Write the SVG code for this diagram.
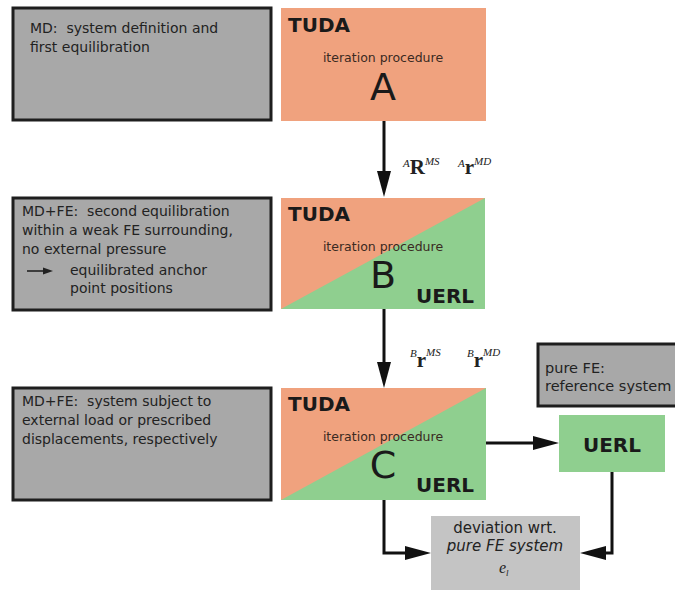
<svg xmlns="http://www.w3.org/2000/svg" width="675" height="590" viewBox="0 0 675 590">
<style>
.note{fill:#a8a8a8;stroke:#1e1e1e;stroke-width:3}
.ntxt{font-family:"DejaVu Sans",Verdana,sans-serif;font-size:14px;fill:#222}
.tuda{font-family:"DejaVu Sans",Verdana,sans-serif;font-size:20px;font-weight:bold;fill:#1a1a1a}
.iter{font-family:"DejaVu Sans",Verdana,sans-serif;font-size:12.5px;fill:#3a2a22;text-anchor:middle}
.big{font-family:"DejaVu Sans",Verdana,sans-serif;font-size:38px;fill:#1a1a1a;text-anchor:middle}
.math{font-family:"Liberation Serif","DejaVu Serif",serif;fill:#222}
.sup{font-size:11px;font-style:italic}
.conn{fill:none;stroke:#111;stroke-width:3}
.or{fill:#f0a27e}
.gr{fill:#8fcf8f}
</style>
<defs>
<marker id="ah" markerUnits="userSpaceOnUse" markerWidth="26" markerHeight="14" refX="18" refY="7" orient="auto">
<path d="M0,0 L26,7 L0,14 Z" fill="#111"/>
</marker>
</defs>

<g id="note1">
<rect class="note" x="13" y="8" width="258" height="112"/>
<text class="ntxt" x="30" y="33" xml:space="preserve">MD:  system definition and</text>
<text class="ntxt" x="30" y="52">first equilibration</text>
</g>

<g id="note2">
<rect class="note" x="13" y="198" width="258" height="112"/>
<text class="ntxt" x="22" y="216" xml:space="preserve">MD+FE:  second equilibration</text>
<text class="ntxt" x="22" y="235">within a weak FE surrounding,</text>
<text class="ntxt" x="22" y="254">no external pressure</text>
<line x1="27" y1="271" x2="44" y2="271" stroke="#222" stroke-width="1.6"/>
<path d="M43,267.5 L53,271 L43,274.5 Z" fill="#222"/>
<text class="ntxt" x="70" y="275">equilibrated anchor</text>
<text class="ntxt" x="70" y="293">point positions</text>
</g>

<g id="note3">
<rect class="note" x="13" y="388" width="258" height="112"/>
<text class="ntxt" x="22" y="406" xml:space="preserve">MD+FE:  system subject to</text>
<text class="ntxt" x="22" y="425">external load or prescribed</text>
<text class="ntxt" x="22" y="444">displacements, respectively</text>
</g>

<g id="boxA">
<rect class="or" x="281" y="8" width="205" height="113"/>
<text class="tuda" x="288" y="32">TUDA</text>
<text class="iter" x="383" y="62">iteration procedure</text>
<text class="big" x="383" y="100">A</text>
</g>

<g id="boxB">
<rect class="gr" x="281" y="198" width="204" height="111"/>
<polygon class="or" points="281,198 485,198 281,309"/>
<text class="tuda" x="288" y="221">TUDA</text>
<text class="iter" x="383" y="251">iteration procedure</text>
<text class="big" x="383" y="288">B</text>
<text class="tuda" x="416" y="303">UERL</text>
</g>

<g id="boxC">
<rect class="gr" x="281" y="388" width="205" height="112"/>
<polygon class="or" points="281,388 486,388 281,500"/>
<text class="tuda" x="288" y="411">TUDA</text>
<text class="iter" x="383" y="441">iteration procedure</text>
<text class="big" x="383" y="478">C</text>
<text class="tuda" x="416" y="492">UERL</text>
</g>

<g id="pureFE">
<rect class="note" x="538" y="344" width="150" height="62"/>
<text class="ntxt" x="545" y="373" style="font-size:14.5px">pure FE:</text>
<text class="ntxt" x="545" y="391" style="font-size:14.5px">reference system</text>
</g>

<g id="uerl">
<rect class="gr" x="559" y="415" width="106" height="57"/>
<text class="tuda" x="612" y="452" text-anchor="middle">UERL</text>
</g>

<g id="deviation">
<rect x="431" y="516" width="149" height="80" fill="#c4c4c4"/>
<text class="ntxt" x="505" y="533" text-anchor="middle" style="font-size:15px">deviation wrt.</text>
<text class="ntxt" x="505" y="551" text-anchor="middle" style="font-size:15px;font-style:italic">pure FE system</text>
<text class="math" x="499" y="573" style="font-size:16px;font-style:italic">e<tspan dy="3" style="font-size:9px">l</tspan></text>
</g>

<g id="labels">
<text class="math" x="403" y="174"><tspan class="sup" dy="-7">A</tspan><tspan dy="7" style="font-size:21px;font-weight:bold">R</tspan><tspan class="sup" dy="-9">MS</tspan></text>
<text class="math" x="458" y="174"><tspan class="sup" dy="-7">A</tspan><tspan dy="7" style="font-size:21px;font-weight:bold">r</tspan><tspan class="sup" dy="-9">MD</tspan></text>
<text class="math" x="410" y="367"><tspan class="sup" dy="-10">B</tspan><tspan dy="10" style="font-size:21px;font-weight:bold">r</tspan><tspan class="sup" dy="-11">MS</tspan></text>
<text class="math" x="467" y="367"><tspan class="sup" dy="-10">B</tspan><tspan dy="10" style="font-size:21px;font-weight:bold">r</tspan><tspan class="sup" dy="-11">MD</tspan></text>
</g>

<g id="connectors">
<path class="conn" d="M384,121 V189" marker-end="url(#ah)"/>
<path class="conn" d="M384,309 V380" marker-end="url(#ah)"/>
<path class="conn" d="M486,443 H551" marker-end="url(#ah)"/>
<path class="conn" d="M384,500 V553 H423" marker-end="url(#ah)"/>
<path class="conn" d="M612,472 V553 H588" marker-end="url(#ah)"/>
</g>
</svg>
